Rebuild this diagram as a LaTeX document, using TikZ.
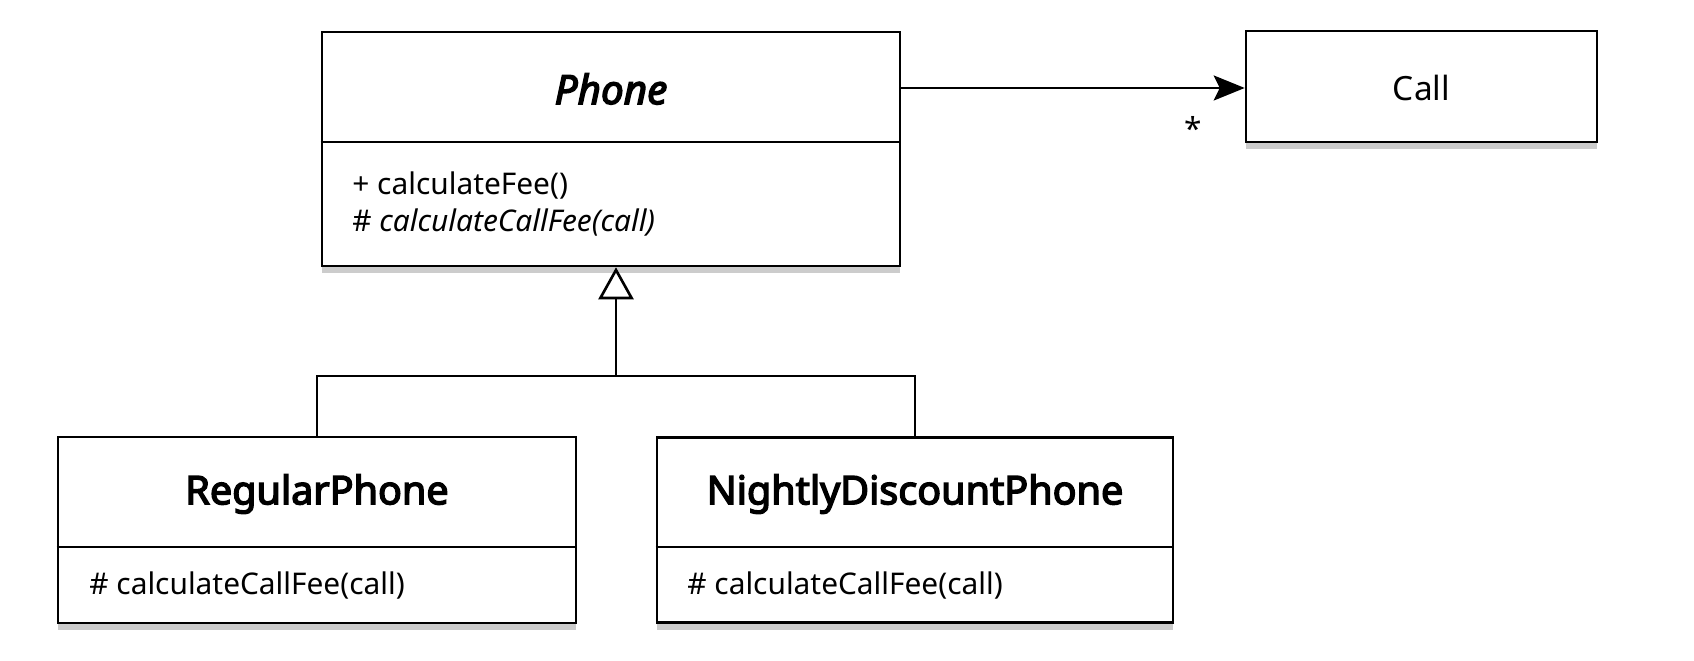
\documentclass[tikz,border=0pt]{standalone}
\usepackage{fontspec}
\setmainfont{Noto Sans}
\newfontfamily\titlefont{Noto Sans}[FakeBold=3.6]
\usetikzlibrary{arrows.meta,shadows}
\begin{document}
\begin{tikzpicture}[x=0.02cm,y=-0.02cm,
  classbox/.style={draw=black, line width=1.5pt, fill=white, inner sep=0pt,
    drop shadow={shadow xshift=0pt, shadow yshift=-4pt, opacity=0.4, fill=gray}},
  titletxt/.style={font=\titlefont\fontsize{22.5}{26}\selectfont},
  methtxt/.style={font=\fontsize{17}{20}\selectfont, anchor=west, inner sep=0pt},
  divider/.style={line width=1.5pt},
  conn/.style={line width=1.5pt}]
\useasboundingbox (0,0) rectangle (1694,661);
\fill[white] (0,0) rectangle (1694,661);
% Phone
\node[classbox, minimum width=11.56cm, minimum height=4.68cm] (phone) at (611,149) {};
\node[font=\titlefont\itshape\fontsize{23}{27}\selectfont] (phonet) at (611,89) {Phone};
\draw[divider] (phone.west |- 0,142) -- (phone.east |- 0,142);
\node[methtxt] (m1) at (352,186) {+ calculateFee()};
\node[methtxt] (m2) at (352,223) {\# \textit{calculateCallFee(call)}};
% Call
\node[classbox, minimum width=7.02cm, minimum height=2.22cm] (call) at (1421.5,86.5) {};
\node[font=\fontsize{19}{23}\selectfont] (callt) at (1421.5,88) {Call};
% Regular
\node[classbox, minimum width=10.36cm, minimum height=3.72cm] (regular) at (317,530) {};
\node[titletxt] (regt) at (317,494) {RegularPhone};
\draw[divider] (regular.west |- 0,547) -- (regular.east |- 0,547);
\node[methtxt] (rm) at (89,586) {\# calculateCallFee(call)};
% Nightly
\node[classbox, minimum width=10.32cm, minimum height=3.70cm] (nightly) at (915,530) {};
\node[titletxt] (nt) at (915,494) {NightlyDiscountPhone};
\draw[divider] (nightly.west |- 0,547) -- (nightly.east |- 0,547);
\node[methtxt] (nm) at (687,586) {\# calculateCallFee(call)};
% association
\draw[conn, -{Stealth[length=0.62cm, width=0.5cm, inset=0.12cm]}] (phone.east |- 0,88) -- (call.west |- 0,88);
\node[font=\fontsize{18}{20}\selectfont] (star) at (1193,128) {*};
% inheritance
\coordinate (j) at (616,376);
\draw[conn, -{Triangle[open, length=0.64cm, width=0.7cm]}] (j) -- (phone.south -| j);
\draw[conn] (regular.north) |- (j) -| (nightly.north);
\end{tikzpicture}
\end{document}
